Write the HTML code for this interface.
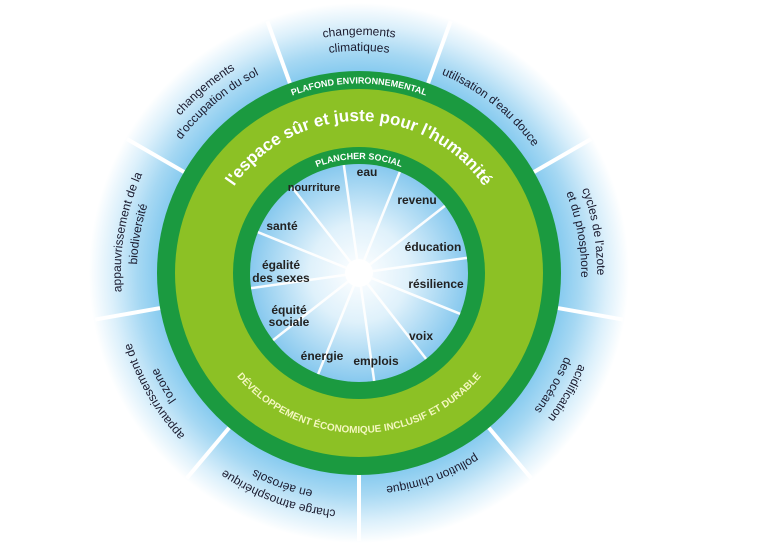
<!DOCTYPE html>
<html><head><meta charset="utf-8"><style>
html,body{margin:0;padding:0;background:#fff;}
svg{display:block;}
text{font-family:"Liberation Sans",sans-serif;font-weight:bold;}
</style></head><body>
<svg width="757" height="548" viewBox="0 0 757 548" xmlns="http://www.w3.org/2000/svg">
<defs>
<radialGradient id="outer" cx="359" cy="273" r="270" gradientUnits="userSpaceOnUse">
<stop offset="0.72" stop-color="#7cc6ee"/>
<stop offset="0.82" stop-color="#a6d8f3"/>
<stop offset="0.92" stop-color="#dcf0fb"/>
<stop offset="1" stop-color="#ffffff"/>
</radialGradient>
<radialGradient id="inner" cx="359" cy="273" r="110" gradientUnits="userSpaceOnUse">
<stop offset="0" stop-color="#ffffff"/>
<stop offset="0.45" stop-color="#dff1fb"/>
<stop offset="1" stop-color="#86c8ee"/>
</radialGradient>
<path id="o1" d="M277.6,49.3 A238,238 0 1 1 440.4,496.7 A238,238 0 1 1 277.6,49.3"/>
<path id="o2" d="M283.1,64.3 A222,222 0 1 1 434.9,481.7 A222,222 0 1 1 283.1,64.3"/>
<path id="o3" d="M285.5,70.9 A215,215 0 1 1 432.5,475.1 A215,215 0 1 1 285.5,70.9"/>
<path id="plaf" d="M359,462.5 A189.5,189.5 0 1 1 359,83.5 A189.5,189.5 0 1 1 359,462.5"/>
<path id="esp" d="M359,425 A152,152 0 1 1 359,121 A152,152 0 1 1 359,425"/>
<path id="plan" d="M359,387 A114,114 0 1 1 359,159 A114,114 0 1 1 359,387"/>
<path id="dev" d="M199,273 A160,160 0 0 0 519,273"/>
</defs>
<circle cx="359" cy="273" r="270" fill="url(#outer)"/>
<g stroke="#fff" stroke-width="4">
<line x1="359" y1="71" x2="359" y2="5" transform="rotate(-20 359 273)"/>
<line x1="359" y1="71" x2="359" y2="5" transform="rotate(20 359 273)"/>
<line x1="359" y1="71" x2="359" y2="5" transform="rotate(60 359 273)"/>
<line x1="359" y1="71" x2="359" y2="5" transform="rotate(100 359 273)"/>
<line x1="359" y1="71" x2="359" y2="5" transform="rotate(140 359 273)"/>
<line x1="359" y1="71" x2="359" y2="5" transform="rotate(180 359 273)"/>
<line x1="359" y1="71" x2="359" y2="5" transform="rotate(220 359 273)"/>
<line x1="359" y1="71" x2="359" y2="5" transform="rotate(260 359 273)"/>
<line x1="359" y1="71" x2="359" y2="5" transform="rotate(300 359 273)"/>
</g>
<circle cx="359" cy="273" r="202" fill="#1b9a40"/>
<circle cx="359" cy="273" r="184" fill="#8cc125"/>
<circle cx="359" cy="273" r="126" fill="#1b9a40"/>
<circle cx="359" cy="273" r="109" fill="url(#inner)"/>
<g stroke="#fff" stroke-width="2.5" opacity="0.95">
<line x1="359" y1="273" x2="359" y2="164" transform="rotate(-8 359 273)"/>
<line x1="359" y1="273" x2="359" y2="164" transform="rotate(22 359 273)"/>
<line x1="359" y1="273" x2="359" y2="164" transform="rotate(52 359 273)"/>
<line x1="359" y1="273" x2="359" y2="164" transform="rotate(82 359 273)"/>
<line x1="359" y1="273" x2="359" y2="164" transform="rotate(112 359 273)"/>
<line x1="359" y1="273" x2="359" y2="164" transform="rotate(142 359 273)"/>
<line x1="359" y1="273" x2="359" y2="164" transform="rotate(172 359 273)"/>
<line x1="359" y1="273" x2="359" y2="164" transform="rotate(202 359 273)"/>
<line x1="359" y1="273" x2="359" y2="164" transform="rotate(232 359 273)"/>
<line x1="359" y1="273" x2="359" y2="164" transform="rotate(262 359 273)"/>
<line x1="359" y1="273" x2="359" y2="164" transform="rotate(292 359 273)"/>
<line x1="359" y1="273" x2="359" y2="164" transform="rotate(322 359 273)"/>
</g>
<circle cx="359" cy="273" r="14" fill="#fff"/>
<g font-size="12" fill="#1a1a2e" text-anchor="middle">
<text style="font-weight:normal"><textPath href="#o1" startOffset="5.56%">changements</textPath></text>
<text style="font-weight:normal"><textPath href="#o2" startOffset="5.56%">climatiques</textPath></text>
<text style="font-weight:normal"><textPath href="#o3" startOffset="16.2%">utilisation d'eau douce</textPath></text>
<text style="font-weight:normal"><textPath href="#o1" startOffset="27.78%">cycles de l'azote</textPath></text>
<text style="font-weight:normal"><textPath href="#o2" startOffset="27.78%">et du phosphore</textPath></text>
<text style="font-weight:normal"><textPath href="#o1" startOffset="38.89%">acidification</textPath></text>
<text style="font-weight:normal"><textPath href="#o2" startOffset="38.89%">des océans</textPath></text>
<text style="font-weight:normal"><textPath href="#o3" startOffset="50%">pollution chimique</textPath></text>
<text style="font-weight:normal"><textPath href="#o1" startOffset="61.11%">charge atmosphérique</textPath></text>
<text style="font-weight:normal"><textPath href="#o2" startOffset="61.11%">en aérosols</textPath></text>
<text style="font-weight:normal"><textPath href="#o1" startOffset="72.22%">appauvrissement de</textPath></text>
<text style="font-weight:normal"><textPath href="#o2" startOffset="72.22%">l'ozone</textPath></text>
<text style="font-weight:normal"><textPath href="#o1" startOffset="83.33%">appauvrissement de la</textPath></text>
<text style="font-weight:normal"><textPath href="#o2" startOffset="83.33%">biodiversité</textPath></text>
<text style="font-weight:normal"><textPath href="#o1" startOffset="94.44%">changements</textPath></text>
<text style="font-weight:normal"><textPath href="#o2" startOffset="94.44%">d'occupation du sol</textPath></text>
</g>
<g fill="#fff" text-anchor="middle">
<text font-size="9"><textPath href="#plaf" startOffset="50%">PLAFOND ENVIRONNEMENTAL</textPath></text>
<text font-size="17"><textPath href="#esp" startOffset="50%">l'espace sûr et juste pour l'humanité</textPath></text>
<text font-size="9"><textPath href="#plan" startOffset="50%">PLANCHER SOCIAL</textPath></text>
<text font-size="10" fill="#f4f7c0"><textPath href="#dev" startOffset="50%">DÉVELOPPEMENT ÉCONOMIQUE INCLUSIF ET DURABLE</textPath></text>
</g>
<g font-size="12" fill="#222" text-anchor="middle">
<text x="367" y="176">eau</text>
<text x="417" y="204">revenu</text>
<text x="433" y="251">éducation</text>
<text x="436" y="288">résilience</text>
<text x="421" y="340">voix</text>
<text x="376" y="365">emplois</text>
<text x="322" y="360">énergie</text>
<text x="289" y="314">équité</text>
<text x="289" y="326">sociale</text>
<text x="281" y="269">égalité</text>
<text x="281" y="282">des sexes</text>
<text x="282" y="230">santé</text>
<text x="314" y="191" font-size="11">nourriture</text>
</g>
</svg>
</body></html>
